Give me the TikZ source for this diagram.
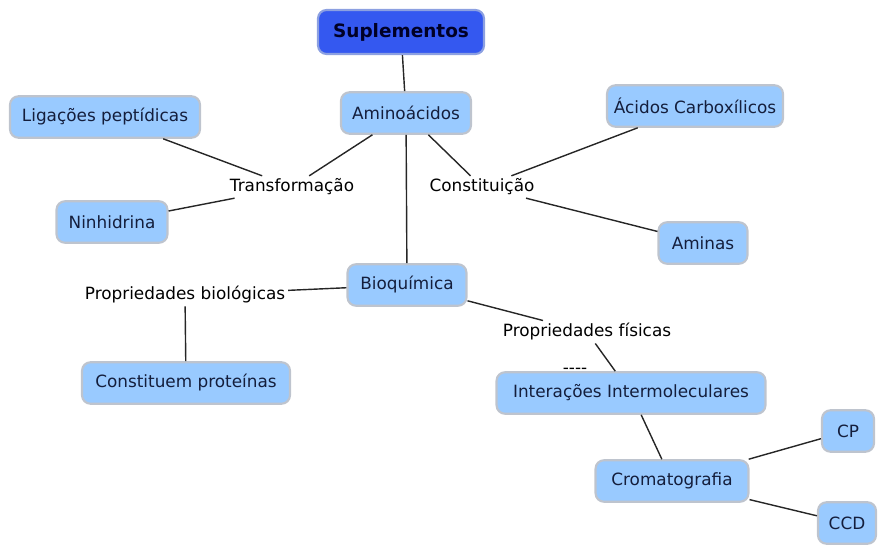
\documentclass[tikz,border=0pt]{standalone}
\usepackage{fontspec}
\setmainfont{DejaVu Sans}
\usetikzlibrary{positioning}
\definecolor{mapdark}{RGB}{52,88,240}
\definecolor{mapdarkline}{RGB}{140,160,225}
\definecolor{maplight}{RGB}{153,202,255}
\definecolor{mapline}{RGB}{190,196,206}
\definecolor{maptext}{RGB}{20,30,60}

\begin{document}
\begin{tikzpicture}[
      x=0.02cm,y=-0.02cm,
      concept/.style={draw=mapline,line width=1.2pt,fill=maplight,rounded corners=0.17cm,
                      minimum height=0.83cm,inner sep=0pt,align=center,
                      font=\fontsize{9.6}{11}\selectfont,text=maptext},
      root/.style={concept,draw=mapdarkline,fill=mapdark,minimum height=0.88cm,
                   font=\fontsize{10.5}{12}\selectfont\bfseries,text=black!85!blue},
      phrase/.style={inner sep=1.5pt,font=\fontsize{9.6}{11}\selectfont,text=black},
      link/.style={line width=0.8pt,black!85}
  ]
    \useasboundingbox (0,0) rectangle (878,544);

    \node[root,minimum width=3.32cm]   (sup)  at (401,32)  {Suplementos};
    \node[concept,minimum width=2.6cm] (amino) at (406,113) {Aminoácidos};
    \node[concept,minimum width=3.8cm] (lig)  at (105,117) {Ligações peptídicas};
    \node[concept,minimum width=3.52cm] (acid) at (695,106) {Ácidos Carboxílicos};
    \node[phrase]                     (transf) at (292,187) {Transformação};
    \node[phrase]                     (const) at (482,187) {Constituição};
    \node[concept,minimum width=2.22cm] (ninh) at (112,222) {Ninhidrina};
    \node[concept,minimum width=1.78cm] (amin) at (703,243) {Aminas};
    \node[concept,minimum width=2.38cm] (bioq) at (407,285) {Bioquímica};
    \node[phrase]                     (pbio) at (185,295) {Propriedades biológicas};
    \node[phrase]                     (pfis) at (587,332) {Propriedades físicas};
    \node[phrase]                     (dash) at (575,371) {-{}-{}-{}-};
    \node[concept,minimum width=4.16cm] (prot) at (186,383) {Constituem proteínas};
    \node[concept,minimum width=5.38cm] (inter) at (631,393) {Interações Intermoleculares};
    \node[concept,minimum width=3.06cm] (crom) at (672,481) {Cromatografia};
    \node[concept,minimum width=1.04cm] (cp)   at (848,431) {CP};
    \node[concept,minimum width=1.16cm] (ccd)  at (847,523) {CCD};

    \draw[link] (sup) -- (amino);
    \draw[link] (amino) -- (transf);
    \draw[link] (amino) -- (const);
    \draw[link] (amino) -- (bioq);
    \draw[link] (transf) -- (lig);
    \draw[link] (transf) -- (ninh);
    \draw[link] (const) -- (acid);
    \draw[link] (const) -- (amin);
    \draw[link] (bioq) -- (pbio);
    \draw[link] (pbio) -- (prot);
    \draw[link] (bioq) -- (pfis);
    \draw[link] (pfis) -- (inter);
    \draw[link] (inter) -- (crom);
    \draw[link] (crom) -- (cp);
    \draw[link] (crom) -- (ccd);
  \end{tikzpicture}
\end{document}
